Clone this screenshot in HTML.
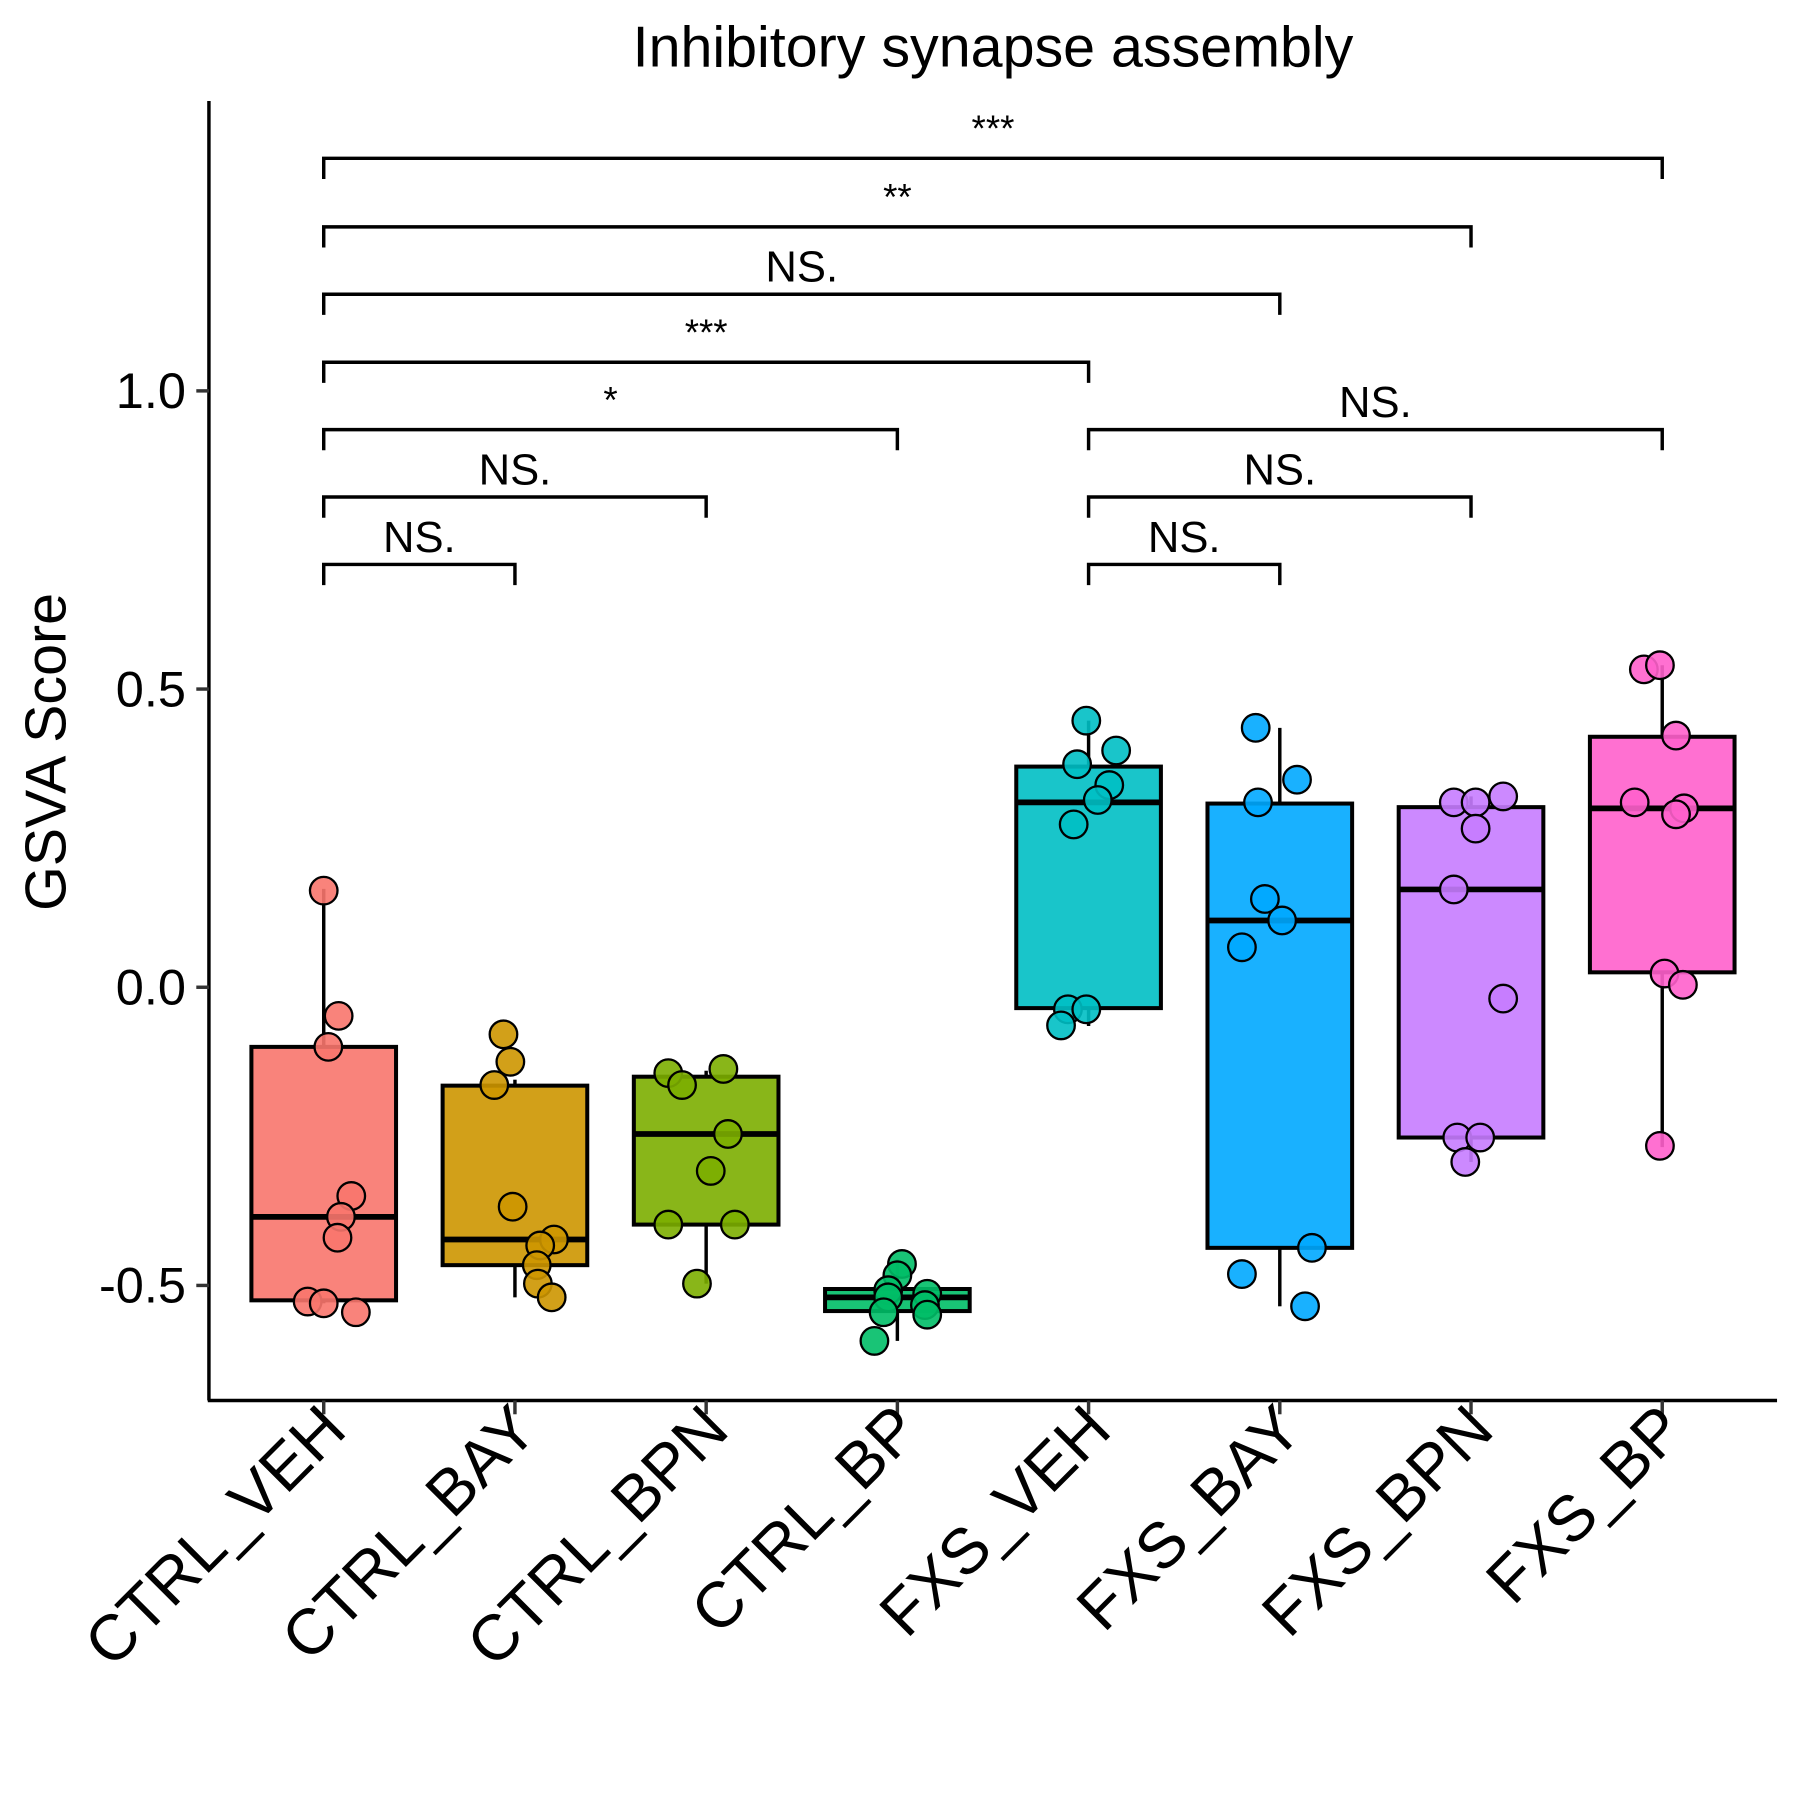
<!DOCTYPE html>
<html><head><meta charset="utf-8"><style>html,body{margin:0;padding:0;background:#fff}svg{display:block}</style></head>
<body>
<svg id="chart" width="1800" height="1800" viewBox="0 0 1568 1568" xmlns="http://www.w3.org/2000/svg" font-family="'Liberation Sans', Arial, sans-serif">
<text x="865" y="58" font-size="50" text-anchor="middle">Inhibitory synapse assembly</text>
<text transform="translate(57,655) rotate(-90)" font-size="50" text-anchor="middle">GSVA Score</text>
<g id="plot"></g>
</svg>
<script>
const categories = ["CTRL_VEH","CTRL_BAY","CTRL_BPN","CTRL_BP","FXS_VEH","FXS_BAY","FXS_BPN","FXS_BP"];
const colors = ["#F8766D","#CD9600","#7CAE00","#00BE67","#00BFC4","#00A9FF","#C77CFF","#FF61CC"];
const q1 = [-0.525,-0.466,-0.398,-0.543,-0.035,-0.437,-0.252,0.025];
const medians = [-0.385,-0.423,-0.246,-0.52,0.31,0.112,0.164,0.30];
const q3 = [-0.10,-0.165,-0.15,-0.506,0.37,0.308,0.302,0.42];
const whiskerLow = [-0.53,-0.52,-0.497,-0.593,-0.065,-0.535,-0.293,-0.268];
const whiskerHigh = [0.165,-0.155,-0.14,-0.457,0.447,0.435,0.32,0.54];
const points = [
 [0.162,-0.048,-0.10,-0.35,-0.385,-0.42,-0.527,-0.53,-0.545],
 [-0.079,-0.125,-0.164,-0.368,-0.423,-0.433,-0.466,-0.497,-0.52],
 [-0.137,-0.144,-0.164,-0.246,-0.308,-0.398,-0.398,-0.497],
 [-0.464,-0.483,-0.508,-0.514,-0.52,-0.533,-0.549,-0.545,-0.593],
 [0.447,0.397,0.374,0.339,0.314,0.273,-0.037,-0.037,-0.064],
 [0.435,0.348,0.310,0.148,0.112,0.067,-0.437,-0.481,-0.535],
 [0.31,0.31,0.32,0.266,0.164,-0.019,-0.252,-0.252,-0.293],
 [0.533,0.54,0.422,0.31,0.30,0.29,0.023,0.004,-0.266]
];
const jitter = [
 [0,13,4,24,15,12,-14,0,28],
 [-10,-4,-18,-2,34,22,19,20,32],
 [15,-33,-21,19,4,-33,25,-8],
 [4,0,-8,26,-8,24,26,-12,-20],
 [-2,24,-10,18,8,-13,-18,-2,-24],
 [-21,15,-19,-13,2,-33,28,-33,22],
 [-15,4,28,4,-15,28,-12,8,-5],
 [-16,-2,12,-24,19,12,2,18,-2]
];
const yTicks = [-0.5,0.0,0.5,1.0];
const yTickLabels = ["-0.5","0.0","0.5","1.0"];
const bracketFrom = [0,0,0,0,0,0,0,4,4,4];
const bracketTo = [7,6,5,4,3,2,1,7,6,5];
const bracketLevel = [1.39,1.275,1.162,1.048,0.935,0.822,0.709,0.935,0.822,0.709];
const bracketLabels = ["***","**","NS.","***","*","NS.","NS.","NS.","NS.","NS."];

const NS="http://www.w3.org/2000/svg";
const g=document.getElementById('plot');
function X(i){return 282+166.57*i;}
function Y(v){return 860-519.5*v;}
function el(t,a,p){const e=document.createElementNS(NS,t);for(const k in a)e.setAttribute(k,a[k]);(p||g).appendChild(e);return e;}

let ax=el('line',{x1:182,y1:88,x2:182,y2:1220,stroke:'#000','stroke-width':3});


ax=el('line',{x1:181,y1:1220,x2:1548,y2:1220,stroke:'#000','stroke-width':3});


yTicks.forEach((v,i)=>{
 const t=el('line',{x1:171,x2:182,y1:Y(v),y2:Y(v),stroke:'#333','stroke-width':3});
 
 
 const l=el('text',{x:162,y:Y(v)+15,'font-size':44,'text-anchor':'end',fill:'#000'});
 l.textContent=yTickLabels[i];
 
 
});
categories.forEach((c,i)=>{
 const x=X(i);
 const t=el('line',{x1:x,x2:x,y1:1220,y2:1232,stroke:'#333','stroke-width':3});
 
 
 const l=el('text',{transform:`translate(${x+22},${1248}) rotate(-45)`,'font-size':56,'text-anchor':'end',fill:'#000'});
 l.textContent=c;
 
 
});
categories.forEach((c,i)=>{
 const x=X(i),w=126;
 const gb=el('g',{});
 
 
 el('line',{x1:x,x2:x,y1:Y(whiskerHigh[i]),y2:Y(q3[i]),stroke:'#000','stroke-width':3},gb);
 el('line',{x1:x,x2:x,y1:Y(q1[i]),y2:Y(whiskerLow[i]),stroke:'#000','stroke-width':3},gb);
 el('rect',{x:x-w/2,y:Y(q3[i]),width:w,height:Y(q1[i])-Y(q3[i]),fill:colors[i],'fill-opacity':0.9,stroke:'#000','stroke-width':3.5},gb);
 el('line',{x1:x-w/2,x2:x+w/2,y1:Y(medians[i]),y2:Y(medians[i]),stroke:'#000','stroke-width':5},gb);
});
points.forEach((arr,i)=>{
 arr.forEach((v,j)=>{
  const p=el('circle',{cx:X(i)+jitter[i][j],cy:Y(v),r:12,fill:colors[i],'fill-opacity':0.9,stroke:'#000','stroke-width':2});
  
  
 });
});
bracketFrom.forEach((a,k)=>{
 const b=bracketTo[k],y=Y(bracketLevel[k]);
 const x1=X(a),x2=X(b);
 const p=el('path',{d:`M${x1},${y+18} V${y} H${x2} V${y+18}`,fill:'none',stroke:'#000','stroke-width':3});
 
 
 const star=bracketLabels[k].indexOf('*')>=0;
 const t=el('text',{x:(x1+x2)/2,y:star?y-15:y-11,'font-size':star?32:38,'text-anchor':'middle',fill:'#000'});
 t.textContent=bracketLabels[k];
 
 
});
</script>
</body></html>
